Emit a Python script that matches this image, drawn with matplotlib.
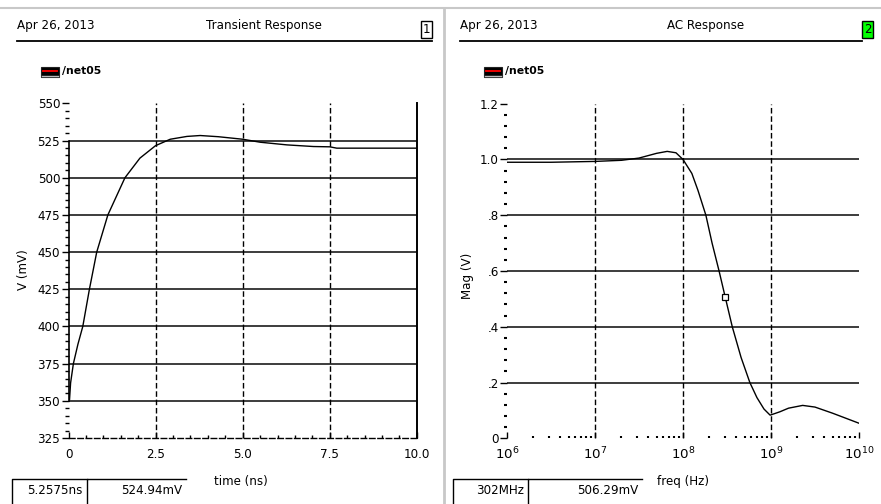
import matplotlib
matplotlib.use("Agg")
import matplotlib.pyplot as plt
from matplotlib.lines import Line2D
from matplotlib.patches import Rectangle
from matplotlib.ticker import MultipleLocator, FixedLocator, LogLocator, NullFormatter, FuncFormatter

# ---- data -------------------------------------------------------------
date_text = "Apr 26, 2013"
trans_title = "Transient Response"
ac_title = "AC Response"
signal_name = "/net05"

# transient response of /net05 (time in ns, voltage in mV)
t_ns = [0.03, 0.06, 0.14, 0.27, 0.41, 0.60, 0.81, 1.13, 1.62, 2.05, 2.5, 2.92,
        3.4, 3.78, 4.3, 5.0, 5.5, 6.27, 7.03, 7.5, 7.7, 8.5, 10.0]
v_mv = [351, 362, 375, 388, 400, 425, 450, 475, 500, 513.2, 521.6, 525.9,
        527.8, 528.4, 527.6, 525.9, 523.9, 522.1, 521.0, 520.8, 519.9, 519.9, 519.9]
trans_xticks = [0, 2.5, 5.0, 7.5, 10.0]
trans_xlabels = ["0", "2.5", "5.0", "7.5", "10.0"]
trans_yticks = [325, 350, 375, 400, 425, 450, 475, 500, 525, 550]

# AC magnitude of /net05 (frequency in Hz, magnitude in V)
freq_hz = [1.0e6, 3.16e6, 1.0e7, 2.0e7, 3.16e7, 5.01e7, 6.61e7, 8.32e7, 1.0e8,
           1.26e8, 1.48e8, 1.82e8, 2.14e8, 2.57e8, 3.02e8, 3.63e8, 4.57e8,
           5.75e8, 6.92e8, 8.32e8, 9.77e8, 1.26e9, 1.58e9, 2.29e9, 3.16e9,
           5.01e9, 7.08e9, 1.0e10]
mag_v = [0.99, 0.99, 0.993, 0.997, 1.005, 1.022, 1.029, 1.024, 1.0,
         0.95, 0.889, 0.8, 0.70, 0.6, 0.506, 0.4, 0.29,
         0.2, 0.146, 0.105, 0.083, 0.095, 0.108, 0.118, 0.112,
         0.09, 0.072, 0.054]
ac_yticks = [0, 0.2, 0.4, 0.6, 0.8, 1.0, 1.2]
ac_ylabels = ["0", ".2", ".4", ".6", ".8", "1.0", "1.2"]

# cursor readouts
trans_cursor = ("5.2575ns", "524.94mV")
ac_cursor = ("302MHz", "506.29mV")
ac_marker = (3.02e8, 0.50629)

# ---- figure -----------------------------------------------------------
W, H = 881, 504
fig = plt.figure(figsize=(W / 100, H / 100), dpi=100)
plt.rcParams["font.family"] = ["DejaVu Sans"]
FS = 8.6


def fx(x):
    return x / W


def fy(y):
    return 1 - y / H


def rect(x0, y0, x1, y1):
    return [fx(x0), fy(y1), (x1 - x0) / W, (y1 - y0) / H]


def fline(xs, ys, **kw):
    fig.add_artist(Line2D([fx(x) for x in xs], [fy(y) for y in ys],
                          transform=fig.transFigure, **kw))


def ftext(x, y, s, **kw):
    fig.text(fx(x), fy(y), s, **kw)


# window chrome
fline([0, W], [8, 8], color="#c8c8c8", lw=1.5)
fline([444, 444], [8, H], color="#c8c8c8", lw=2)

grid_color = "#3c3c3c"


def header(x0, x1, title, tx, num, box_x, face):
    ftext(x0, 25, date_text, fontsize=FS, va="center", ha="left")
    ftext(tx, 25, title, fontsize=FS, va="center", ha="center")
    fline([x0, x1], [40.5, 40.5], color="black", lw=1.3)
    fig.add_artist(Rectangle((fx(box_x), fy(38)), 11 / W, 17 / H,
                             transform=fig.transFigure, facecolor=face,
                             edgecolor="black", lw=1))
    ftext(box_x + 5.5, 29.5, num, fontsize=FS, va="center", ha="center")


def legend_icon(x, y):
    fig.add_artist(Rectangle((fx(x), fy(y + 10)), 18 / W, 10 / H,
                             transform=fig.transFigure, facecolor="black",
                             edgecolor="#222222", lw=0.8))
    fline([x + 2, x + 16], [y + 4.5, y + 4.5], color="red", lw=1.3)
    fline([x + 1, x + 17], [y + 8.5, y + 8.5], color="#bbbbbb", lw=1)
    ftext(x + 21, y + 4, signal_name, fontsize=FS - 0.8, va="center",
          ha="left", fontweight="bold")


def readout(x0, xm, x1, vals, y0=479):
    for a, b, s in [(x0, xm, vals[0]), (xm, x1, vals[1])]:
        fline([a, a, b], [H, y0, y0], color="black", lw=1)
        ftext(b - 4, y0 + 12, s, fontsize=FS, va="center", ha="right")


header(17, 432, trans_title, 264, "1", 421, "white")
header(460, 862, ac_title, 706, "2", 862, "#00ff00")
legend_icon(41, 67)
legend_icon(484, 67)
readout(12, 87, 186, trans_cursor)
readout(453, 528, 642, ac_cursor)

# ---- transient panel ----------------------------------------------------
ax1 = fig.add_axes(rect(68.5, 103.4, 416.9, 438))
ax1.plot(t_ns, v_mv, color="black", lw=1)
ax1.set_xlim(0, 10)
ax1.set_ylim(325, 550)
for y in trans_yticks[1:-1]:
    ax1.axhline(y, color=grid_color, lw=1.4, zorder=0)
for x in trans_xticks[1:-1]:
    ax1.axvline(x, color="black", lw=1, ls=(0, (4, 2)), zorder=0)
ax1.spines["top"].set_visible(False)
ax1.spines["left"].set_bounds(350, 525)
ax1.spines["left"].set_linewidth(1.2)
ax1.spines["right"].set_linewidth(1.4)
ax1.spines["bottom"].set_linestyle((0, (4, 2)))
ax1.spines["bottom"].set_linewidth(1)
ax1.xaxis.set_major_locator(FixedLocator(trans_xticks))
ax1.set_xticklabels(trans_xlabels)
ax1.xaxis.set_minor_locator(MultipleLocator(0.5))
ax1.yaxis.set_major_locator(FixedLocator(trans_yticks))
ax1.yaxis.set_minor_locator(MultipleLocator(5))
ax1.tick_params(axis="y", which="major", direction="out", length=5, width=1,
                labelsize=FS, pad=1)
ax1.tick_params(axis="y", which="minor", direction="out", length=3, width=1)
ax1.tick_params(axis="x", which="major", direction="in", length=4, width=1,
                labelsize=FS, pad=7)
ax1.tick_params(axis="x", which="minor", direction="in", length=2, width=1)
ax1.set_facecolor("none")
ftext(241, 481, "time (ns)", fontsize=FS, ha="center", va="center")
ftext(24, 270, "V (mV)", fontsize=FS, ha="center", va="center", rotation=90)

# ---- AC panel -----------------------------------------------------------
ax2 = fig.add_axes(rect(507, 103.7, 859, 438.3))
ax2.plot(freq_hz, mag_v, color="black", lw=1)
ax2.plot([ac_marker[0]], [ac_marker[1]], marker="s", ms=5, mfc="white",
         mec="black", mew=0.9, zorder=5)
ax2.set_xscale("log")
ax2.set_xlim(1e6, 1e10)
ax2.set_ylim(0, 1.2)
for y in ac_yticks[1:-1]:
    ax2.axhline(y, color=grid_color, lw=1.4, zorder=0)
for x in [1e7, 1e8, 1e9]:
    ax2.axvline(x, color="black", lw=1, ls=(0, (4, 2)), zorder=0)
for s in ["top", "right", "left", "bottom"]:
    ax2.spines[s].set_visible(False)
ax2.yaxis.set_major_locator(FixedLocator(ac_yticks))
ax2.set_yticklabels(ac_ylabels)
ax2.yaxis.set_minor_locator(MultipleLocator(0.04))
ax2.xaxis.set_major_locator(LogLocator(base=10, numticks=10))
ax2.xaxis.set_minor_locator(LogLocator(base=10, subs=range(2, 10), numticks=20))
ax2.xaxis.set_minor_formatter(NullFormatter())
ax2.tick_params(axis="y", which="major", direction="out", length=5, width=1,
                labelsize=FS, pad=1)
ax2.tick_params(axis="y", which="minor", direction="out", length=2, width=1.5)
ax2.tick_params(axis="x", which="major", direction="in", length=4, width=1,
                labelsize=FS + 1, pad=5)
ax2.tick_params(axis="x", which="minor", direction="in", length=1.5, width=1.5)
ax2.set_facecolor("none")
ftext(683, 481, "freq (Hz)", fontsize=FS, ha="center", va="center")
ftext(468, 276, "Mag (V)", fontsize=FS, ha="center", va="center", rotation=90)

fig.savefig("out.png", dpi=100)
